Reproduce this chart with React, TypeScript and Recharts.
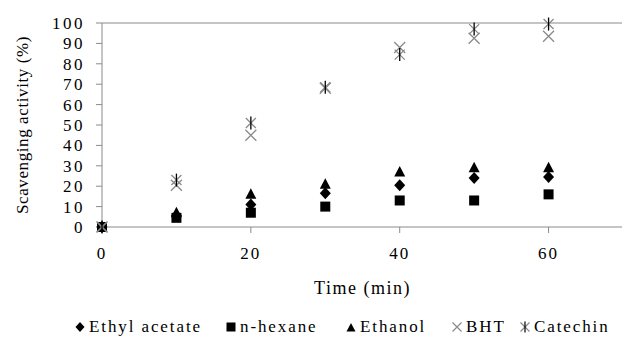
import React from "react";
import {
  ScatterChart,
  Scatter,
  XAxis,
  YAxis,
  ReferenceLine,
  Label,
} from "recharts";

const time = [0, 10, 20, 30, 40, 50, 60];
const ethylAcetate = [0, 5.5, 11, 16.5, 20.5, 24, 24.5];
const nHexane = [0, 4.5, 7, 10, 13, 13, 16];
const ethanol = [0, 7, 16, 21, 27, 29, 29];
const bht = [0, 20.5, 45, 68, 88, 92.5, 93.5];
const catechin = [0, 23, 51, 68.5, 84.5, 97, 99.5];

const xTicks = [0, 20, 40, 60];
const yTicks = [0, 10, 20, 30, 40, 50, 60, 70, 80, 90, 100];

const toPoints = (vals: number[]) => time.map((t, i) => ({ x: t, y: vals[i] }));

const FONT = '"Liberation Serif", "Times New Roman", serif';
const GREY = "#8a8a8a";

const Diamond = ({ cx, cy }: any) => (
  <path d={`M${cx},${cy - 6}L${cx + 5.5},${cy}L${cx},${cy + 6}L${cx - 5.5},${cy}Z`} fill="#000" />
);
const Square = ({ cx, cy }: any) => (
  <rect x={cx - 5} y={cy - 5} width={10} height={10} fill="#000" />
);
const Triangle = ({ cx, cy }: any) => (
  <path d={`M${cx},${cy - 6}L${cx + 5.5},${cy + 4.5}L${cx - 5.5},${cy + 4.5}Z`} fill="#000" />
);
const Cross = ({ cx, cy }: any) => (
  <path
    d={`M${cx - 5.5},${cy - 5.5}L${cx + 5.5},${cy + 5.5}M${cx + 5.5},${cy - 5.5}L${cx - 5.5},${cy + 5.5}`}
    stroke={GREY}
    strokeWidth={1.3}
    fill="none"
  />
);
const Star = ({ cx, cy }: any) => (
  <g>
    <path
      d={`M${cx - 5},${cy - 5}L${cx + 5},${cy + 5}M${cx + 5},${cy - 5}L${cx - 5},${cy + 5}`}
      stroke={GREY}
      strokeWidth={1.3}
      fill="none"
    />
    <path d={`M${cx},${cy - 6.5}L${cx},${cy + 6.5}`} stroke="#000" strokeWidth={1.3} />
  </g>
);

const legendText = { fontFamily: FONT, fontSize: 17, letterSpacing: 1.9, color: "#000" };

function LegendIcon({ kind }: { kind: string }) {
  return (
    <svg width={12} height={12} style={{ marginRight: 3, verticalAlign: "-1px" }}>
      {kind === "diamond" && <path d="M6,1L10.5,6L6,11L1.5,6Z" fill="#000" />}
      {kind === "square" && <rect x={1.5} y={1.5} width={9} height={9} fill="#000" />}
      {kind === "triangle" && <path d="M6,2L10.5,10.5L1.5,10.5Z" fill="#000" />}
      {(kind === "cross" || kind === "star") && (
        <path d="M1.5,1.5L10.5,10.5M10.5,1.5L1.5,10.5" stroke={GREY} strokeWidth={1.2} />
      )}
      {kind === "star" && <path d="M6,0.5L6,11.5" stroke="#000" strokeWidth={1.2} />}
    </svg>
  );
}

const legendItems = [
  { name: "Ethyl acetate", kind: "diamond", left: 74 },
  { name: "n-hexane", kind: "square", left: 225 },
  { name: "Ethanol", kind: "triangle", left: 345 },
  { name: "BHT", kind: "cross", left: 451 },
  { name: "Catechin", kind: "star", left: 519 },
];

export default function App() {
  return (
    <div style={{ position: "relative", width: 622, height: 333 }}>
      <ScatterChart
        width={622}
        height={333}
        margin={{ top: 15, right: 7, left: 34, bottom: 84 }}
      >
        <XAxis
          type="number"
          dataKey="x"
          domain={[0, 70]}
          ticks={xTicks}
          stroke={GREY}
          tickSize={6}
          tickMargin={14}
          height={30}
          tick={{ fill: "#000", fontFamily: FONT, fontSize: 17, letterSpacing: 2 }}
        >
          <Label
            value="Time (min)"
            position="bottom"
            offset={24}
            style={{ fill: "#000", fontFamily: FONT, fontSize: 18, letterSpacing: 1.5 }}
          />
        </XAxis>
        <YAxis
          type="number"
          dataKey="y"
          domain={[0, 100]}
          ticks={yTicks}
          interval={0}
          stroke={GREY}
          tickSize={6}
          tickMargin={11}
          width={60}
          tick={{ fill: "#000", fontFamily: FONT, fontSize: 17, letterSpacing: 2.5 }}
        >
          <Label
            value="Scavenging activity (%)"
            angle={-90}
            position="insideLeft"
            offset={-20}
            style={{
              fill: "#000",
              fontFamily: FONT,
              fontSize: 17,
              letterSpacing: 0.6,
              textAnchor: "middle",
            }}
          />
        </YAxis>
        <ReferenceLine y={100} stroke={GREY} />
        <ReferenceLine x={70} stroke={GREY} />
        <Scatter name="n-hexane" data={toPoints(nHexane)} shape={Square} isAnimationActive={false} />
        <Scatter name="Ethyl acetate" data={toPoints(ethylAcetate)} shape={Diamond} isAnimationActive={false} />
        <Scatter name="Ethanol" data={toPoints(ethanol)} shape={Triangle} isAnimationActive={false} />
        <Scatter name="BHT" data={toPoints(bht)} shape={Cross} isAnimationActive={false} />
        <Scatter name="Catechin" data={toPoints(catechin)} shape={Star} isAnimationActive={false} />
      </ScatterChart>
      {legendItems.map((item) => (
        <div
          key={item.name}
          style={{ position: "absolute", left: item.left - 8, top: 309, whiteSpace: "nowrap", ...legendText }}
        >
          <LegendIcon kind={item.kind} />
          {item.name}
        </div>
      ))}
    </div>
  );
}
